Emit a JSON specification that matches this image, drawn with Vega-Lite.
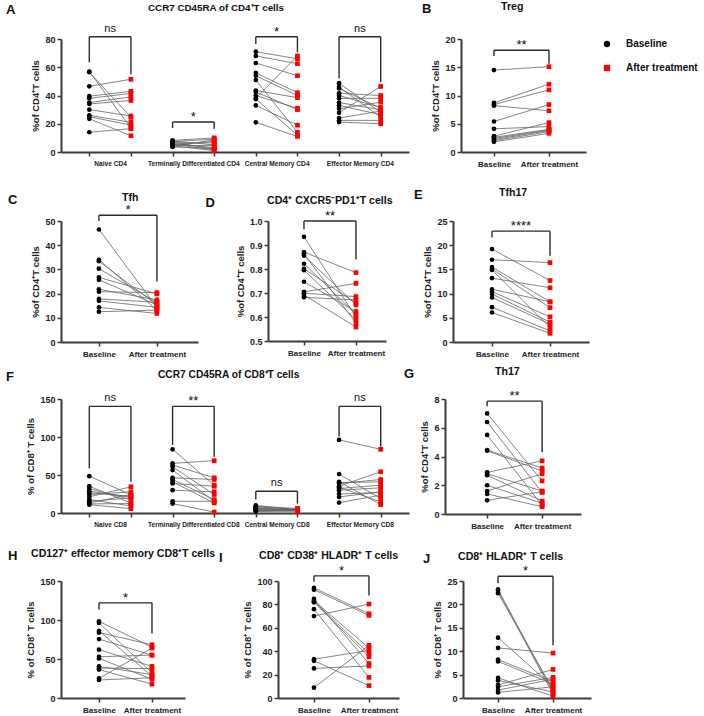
{
"$schema": "https://vega.github.io/schema/vega-lite/v6.json",
"padding": {"left": 5, "top": 2, "right": 5, "bottom": 2},
"config": {
  "view": {"stroke": null},
  "font": "Liberation Sans",
  "axis": {"domainColor": "#3a3a3a", "domainWidth": 2, "tickColor": "#3a3a3a", "tickWidth": 1.5, "tickSize": 4, "labelFont": "Liberation Sans", "labelFontWeight": "bold", "labelFontSize": 9, "labelColor": "#222222", "titleFont": "Liberation Sans", "titleFontWeight": "bold", "titleFontSize": 9.5, "titleColor": "#222222", "grid": false, "labelPadding": 2, "titlePadding": 4, "labelOverlap": false},
  "axisX": {"labelFontSize": 8, "labelAngle": 0, "labelOverlap": false, "labelPadding": 4},
  "axisY": {"labelOverlap": false},
  "title": {"font": "Liberation Sans", "fontWeight": "bold", "fontSize": 10.6, "color": "#111111"},
  "legend": {"labelFont": "Liberation Sans", "labelFontWeight": "bold", "labelFontSize": 10, "labelColor": "#111111"}
},
"datasets": {
  "dA": [
    {"g": "Naive CD4", "id": 1, "Baseline": 57, "After treatment": 17},
    {"g": "Naive CD4", "id": 2, "Baseline": 56.5, "After treatment": 24.5},
    {"g": "Naive CD4", "id": 3, "Baseline": 46.5, "After treatment": 51.5},
    {"g": "Naive CD4", "id": 4, "Baseline": 39.5, "After treatment": 43},
    {"g": "Naive CD4", "id": 5, "Baseline": 38, "After treatment": 41.5},
    {"g": "Naive CD4", "id": 6, "Baseline": 35, "After treatment": 39},
    {"g": "Naive CD4", "id": 7, "Baseline": 34, "After treatment": 36.5},
    {"g": "Naive CD4", "id": 8, "Baseline": 30, "After treatment": 25.5},
    {"g": "Naive CD4", "id": 9, "Baseline": 26, "After treatment": 21},
    {"g": "Naive CD4", "id": 10, "Baseline": 25, "After treatment": 19},
    {"g": "Naive CD4", "id": 11, "Baseline": 23.5, "After treatment": 11.5},
    {"g": "Naive CD4", "id": 12, "Baseline": 14, "After treatment": 16.5},
    {"g": "Terminally Differentiated CD4", "id": 1, "Baseline": 8.2, "After treatment": 10},
    {"g": "Terminally Differentiated CD4", "id": 2, "Baseline": 7.8, "After treatment": 5},
    {"g": "Terminally Differentiated CD4", "id": 3, "Baseline": 7.4, "After treatment": 9},
    {"g": "Terminally Differentiated CD4", "id": 4, "Baseline": 7, "After treatment": 2},
    {"g": "Terminally Differentiated CD4", "id": 5, "Baseline": 6.5, "After treatment": 6.5},
    {"g": "Terminally Differentiated CD4", "id": 6, "Baseline": 6, "After treatment": 3},
    {"g": "Terminally Differentiated CD4", "id": 7, "Baseline": 5.6, "After treatment": 1.5},
    {"g": "Terminally Differentiated CD4", "id": 8, "Baseline": 5.2, "After treatment": 7.5},
    {"g": "Terminally Differentiated CD4", "id": 9, "Baseline": 4.8, "After treatment": 4.5},
    {"g": "Terminally Differentiated CD4", "id": 10, "Baseline": 4.4, "After treatment": 1},
    {"g": "Terminally Differentiated CD4", "id": 11, "Baseline": 4, "After treatment": 8.5},
    {"g": "Terminally Differentiated CD4", "id": 12, "Baseline": 3.6, "After treatment": 2.5},
    {"g": "Central Memory CD4", "id": 1, "Baseline": 71, "After treatment": 66},
    {"g": "Central Memory CD4", "id": 2, "Baseline": 68, "After treatment": 62.5},
    {"g": "Central Memory CD4", "id": 3, "Baseline": 63, "After treatment": 54},
    {"g": "Central Memory CD4", "id": 4, "Baseline": 56, "After treatment": 42},
    {"g": "Central Memory CD4", "id": 5, "Baseline": 54, "After treatment": 40},
    {"g": "Central Memory CD4", "id": 6, "Baseline": 51, "After treatment": 14},
    {"g": "Central Memory CD4", "id": 7, "Baseline": 43.5, "After treatment": 38.5},
    {"g": "Central Memory CD4", "id": 8, "Baseline": 42.5, "After treatment": 30},
    {"g": "Central Memory CD4", "id": 9, "Baseline": 40, "After treatment": 31},
    {"g": "Central Memory CD4", "id": 10, "Baseline": 38, "After treatment": 68},
    {"g": "Central Memory CD4", "id": 11, "Baseline": 37.5, "After treatment": 12},
    {"g": "Central Memory CD4", "id": 12, "Baseline": 33, "After treatment": 19},
    {"g": "Central Memory CD4", "id": 13, "Baseline": 21, "After treatment": 11},
    {"g": "Effector Memory CD4", "id": 1, "Baseline": 48.7, "After treatment": 28},
    {"g": "Effector Memory CD4", "id": 2, "Baseline": 46, "After treatment": 24.7},
    {"g": "Effector Memory CD4", "id": 3, "Baseline": 45, "After treatment": 31},
    {"g": "Effector Memory CD4", "id": 4, "Baseline": 41.6, "After treatment": 40},
    {"g": "Effector Memory CD4", "id": 5, "Baseline": 40, "After treatment": 31.5},
    {"g": "Effector Memory CD4", "id": 6, "Baseline": 38, "After treatment": 38},
    {"g": "Effector Memory CD4", "id": 7, "Baseline": 35, "After treatment": 29.9},
    {"g": "Effector Memory CD4", "id": 8, "Baseline": 33, "After treatment": 26.4},
    {"g": "Effector Memory CD4", "id": 9, "Baseline": 30.6, "After treatment": 35.3},
    {"g": "Effector Memory CD4", "id": 10, "Baseline": 27.8, "After treatment": 46.4},
    {"g": "Effector Memory CD4", "id": 11, "Baseline": 24, "After treatment": 29},
    {"g": "Effector Memory CD4", "id": 12, "Baseline": 22.4, "After treatment": 22.4},
    {"g": "Effector Memory CD4", "id": 13, "Baseline": 21.2, "After treatment": 20}
  ],
  "dB": [
    {"id": 1, "Baseline": 14.5, "After treatment": 15.1},
    {"id": 2, "Baseline": 8.7, "After treatment": 12},
    {"id": 3, "Baseline": 8.4, "After treatment": 11},
    {"id": 4, "Baseline": 8.2, "After treatment": 7.3},
    {"id": 5, "Baseline": 5.4, "After treatment": 8.4},
    {"id": 6, "Baseline": 4.1, "After treatment": 4.5},
    {"id": 7, "Baseline": 2.8, "After treatment": 5.2},
    {"id": 8, "Baseline": 2.6, "After treatment": 4},
    {"id": 9, "Baseline": 2.4, "After treatment": 3.9},
    {"id": 10, "Baseline": 2.2, "After treatment": 3.8},
    {"id": 11, "Baseline": 2, "After treatment": 3.6},
    {"id": 12, "Baseline": 1.8, "After treatment": 3.3}
  ],
  "dC": [
    {"id": 1, "Baseline": 46.5, "After treatment": 14.3},
    {"id": 2, "Baseline": 34, "After treatment": 13.2},
    {"id": 3, "Baseline": 33.4, "After treatment": 15.3},
    {"id": 4, "Baseline": 30.3, "After treatment": 16.4},
    {"id": 5, "Baseline": 26.7, "After treatment": 19.9},
    {"id": 6, "Baseline": 25.7, "After treatment": 15.3},
    {"id": 7, "Baseline": 21.8, "After treatment": 17.4},
    {"id": 8, "Baseline": 20.8, "After treatment": 20.4},
    {"id": 9, "Baseline": 17.8, "After treatment": 16.4},
    {"id": 10, "Baseline": 17, "After treatment": 14.3},
    {"id": 11, "Baseline": 14.3, "After treatment": 11.8},
    {"id": 12, "Baseline": 12.5, "After treatment": 13.2}
  ],
  "dD": [
    {"id": 1, "Baseline": 0.934, "After treatment": 0.6},
    {"id": 2, "Baseline": 0.87, "After treatment": 0.785},
    {"id": 3, "Baseline": 0.863, "After treatment": 0.575},
    {"id": 4, "Baseline": 0.856, "After treatment": 0.651},
    {"id": 5, "Baseline": 0.822, "After treatment": 0.612},
    {"id": 6, "Baseline": 0.801, "After treatment": 0.658},
    {"id": 7, "Baseline": 0.795, "After treatment": 0.589},
    {"id": 8, "Baseline": 0.747, "After treatment": 0.623},
    {"id": 9, "Baseline": 0.705, "After treatment": 0.74},
    {"id": 10, "Baseline": 0.699, "After treatment": 0.685},
    {"id": 11, "Baseline": 0.692, "After treatment": 0.558},
    {"id": 12, "Baseline": 0.682, "After treatment": 0.671}
  ],
  "dE": [
    {"id": 1, "Baseline": 19.2, "After treatment": 12.7},
    {"id": 2, "Baseline": 17, "After treatment": 16.4},
    {"id": 3, "Baseline": 15.5, "After treatment": 8.3},
    {"id": 4, "Baseline": 15.1, "After treatment": 7.1},
    {"id": 5, "Baseline": 14.9, "After treatment": 3},
    {"id": 6, "Baseline": 13.2, "After treatment": 11.2},
    {"id": 7, "Baseline": 10.9, "After treatment": 8.3},
    {"id": 8, "Baseline": 10.4, "After treatment": 5.2},
    {"id": 9, "Baseline": 9.9, "After treatment": 4.1},
    {"id": 10, "Baseline": 9.2, "After treatment": 3.7},
    {"id": 11, "Baseline": 7.2, "After treatment": 2.3},
    {"id": 12, "Baseline": 6.1, "After treatment": 1.8}
  ],
  "dF": [
    {"g": "Naive CD8", "id": 1, "Baseline": 48.5, "After treatment": 24},
    {"g": "Naive CD8", "id": 2, "Baseline": 35.3, "After treatment": 13},
    {"g": "Naive CD8", "id": 3, "Baseline": 32, "After treatment": 17.6},
    {"g": "Naive CD8", "id": 4, "Baseline": 28.7, "After treatment": 21},
    {"g": "Naive CD8", "id": 5, "Baseline": 26.5, "After treatment": 22},
    {"g": "Naive CD8", "id": 6, "Baseline": 24.3, "After treatment": 27.8},
    {"g": "Naive CD8", "id": 7, "Baseline": 21.2, "After treatment": 34.4},
    {"g": "Naive CD8", "id": 8, "Baseline": 17.6, "After treatment": 9.3},
    {"g": "Naive CD8", "id": 9, "Baseline": 15.4, "After treatment": 19.9},
    {"g": "Naive CD8", "id": 10, "Baseline": 13.2, "After treatment": 24.3},
    {"g": "Naive CD8", "id": 11, "Baseline": 11, "After treatment": 5.7},
    {"g": "Naive CD8", "id": 12, "Baseline": 12, "After treatment": 12.4},
    {"g": "Terminally Differentiated CD8", "id": 1, "Baseline": 83.8, "After treatment": 36.6},
    {"g": "Terminally Differentiated CD8", "id": 2, "Baseline": 65.3, "After treatment": 68.8},
    {"g": "Terminally Differentiated CD8", "id": 3, "Baseline": 63.1, "After treatment": 46.3},
    {"g": "Terminally Differentiated CD8", "id": 4, "Baseline": 60.9, "After treatment": 24.3},
    {"g": "Terminally Differentiated CD8", "id": 5, "Baseline": 56.5, "After treatment": 15.4},
    {"g": "Terminally Differentiated CD8", "id": 6, "Baseline": 46.3, "After treatment": 44.1},
    {"g": "Terminally Differentiated CD8", "id": 7, "Baseline": 44.1, "After treatment": 17.6},
    {"g": "Terminally Differentiated CD8", "id": 8, "Baseline": 41, "After treatment": 13.2},
    {"g": "Terminally Differentiated CD8", "id": 9, "Baseline": 38.8, "After treatment": 35.3},
    {"g": "Terminally Differentiated CD8", "id": 10, "Baseline": 30, "After treatment": 27.8},
    {"g": "Terminally Differentiated CD8", "id": 11, "Baseline": 15.4, "After treatment": 15.4},
    {"g": "Terminally Differentiated CD8", "id": 12, "Baseline": 12.4, "After treatment": 1.3},
    {"g": "Central Memory CD8", "id": 1, "Baseline": 10, "After treatment": 4},
    {"g": "Central Memory CD8", "id": 2, "Baseline": 8, "After treatment": 5},
    {"g": "Central Memory CD8", "id": 3, "Baseline": 6.5, "After treatment": 3},
    {"g": "Central Memory CD8", "id": 4, "Baseline": 5, "After treatment": 4.5},
    {"g": "Central Memory CD8", "id": 5, "Baseline": 3.5, "After treatment": 3.5},
    {"g": "Central Memory CD8", "id": 6, "Baseline": 2.5, "After treatment": 3},
    {"g": "Central Memory CD8", "id": 7, "Baseline": 9, "After treatment": 6},
    {"g": "Central Memory CD8", "id": 8, "Baseline": 4, "After treatment": 2.5},
    {"g": "Central Memory CD8", "id": 9, "Baseline": 7, "After treatment": 4},
    {"g": "Central Memory CD8", "id": 10, "Baseline": 3, "After treatment": 5.5},
    {"g": "Central Memory CD8", "id": 11, "Baseline": 5.5, "After treatment": 3.8},
    {"g": "Central Memory CD8", "id": 12, "Baseline": 2, "After treatment": 2.8},
    {"g": "Effector Memory CD8", "id": 1, "Baseline": 96.2, "After treatment": 83.8},
    {"g": "Effector Memory CD8", "id": 2, "Baseline": 51.2, "After treatment": 19},
    {"g": "Effector Memory CD8", "id": 3, "Baseline": 41, "After treatment": 11},
    {"g": "Effector Memory CD8", "id": 4, "Baseline": 38.8, "After treatment": 44.1},
    {"g": "Effector Memory CD8", "id": 5, "Baseline": 35.3, "After treatment": 54.3},
    {"g": "Effector Memory CD8", "id": 6, "Baseline": 32.2, "After treatment": 36.6},
    {"g": "Effector Memory CD8", "id": 7, "Baseline": 30, "After treatment": 33.1},
    {"g": "Effector Memory CD8", "id": 8, "Baseline": 21.2, "After treatment": 27.8},
    {"g": "Effector Memory CD8", "id": 9, "Baseline": 13.7, "After treatment": 23.4},
    {"g": "Effector Memory CD8", "id": 10, "Baseline": 40, "After treatment": 41},
    {"g": "Effector Memory CD8", "id": 11, "Baseline": 34, "After treatment": 14.6},
    {"g": "Effector Memory CD8", "id": 12, "Baseline": 25, "After treatment": 27}
  ],
  "dG": [
    {"id": 1, "Baseline": 7, "After treatment": 2.3},
    {"id": 2, "Baseline": 6.4, "After treatment": 1.5},
    {"id": 3, "Baseline": 5.5, "After treatment": 0.6},
    {"id": 4, "Baseline": 4.45, "After treatment": 3.2},
    {"id": 5, "Baseline": 4.4, "After treatment": 3},
    {"id": 6, "Baseline": 2.9, "After treatment": 3.7},
    {"id": 7, "Baseline": 2.8, "After treatment": 1.6},
    {"id": 8, "Baseline": 2.7, "After treatment": 0.9},
    {"id": 9, "Baseline": 2, "After treatment": 0.75},
    {"id": 10, "Baseline": 1.6, "After treatment": 2.8},
    {"id": 11, "Baseline": 1.4, "After treatment": 0.5},
    {"id": 12, "Baseline": 0.95, "After treatment": 1.55}
  ],
  "dH": [
    {"id": 1, "Baseline": 98.3, "After treatment": 65.3},
    {"id": 2, "Baseline": 96.3, "After treatment": 32.2},
    {"id": 3, "Baseline": 86, "After treatment": 28.1},
    {"id": 4, "Baseline": 83.9, "After treatment": 68.2},
    {"id": 5, "Baseline": 75.6, "After treatment": 55},
    {"id": 6, "Baseline": 62, "After treatment": 40.5},
    {"id": 7, "Baseline": 52.9, "After treatment": 55},
    {"id": 8, "Baseline": 50.8, "After treatment": 24},
    {"id": 9, "Baseline": 40.5, "After treatment": 30},
    {"id": 10, "Baseline": 38.4, "After treatment": 37.6},
    {"id": 11, "Baseline": 36.4, "After treatment": 17.8},
    {"id": 12, "Baseline": 25.2, "After treatment": 64},
    {"id": 13, "Baseline": 23.1, "After treatment": 26}
  ],
  "dI": [
    {"id": 1, "Baseline": 94.1, "After treatment": 72},
    {"id": 2, "Baseline": 92.6, "After treatment": 70.6},
    {"id": 3, "Baseline": 84.7, "After treatment": 29.4},
    {"id": 4, "Baseline": 83.2, "After treatment": 42.6},
    {"id": 5, "Baseline": 82.5, "After treatment": 38},
    {"id": 6, "Baseline": 81.8, "After treatment": 35.3},
    {"id": 7, "Baseline": 75.9, "After treatment": 17.6},
    {"id": 8, "Baseline": 70, "After treatment": 80.3},
    {"id": 9, "Baseline": 33.2, "After treatment": 40.6},
    {"id": 10, "Baseline": 31.8, "After treatment": 10.6},
    {"id": 11, "Baseline": 25.3, "After treatment": 27.4},
    {"id": 12, "Baseline": 8.8, "After treatment": 45}
  ],
  "dJ": [
    {"id": 1, "Baseline": 23.2, "After treatment": 1.3},
    {"id": 2, "Baseline": 22.9, "After treatment": 0.8},
    {"id": 3, "Baseline": 22.4, "After treatment": 1.8},
    {"id": 4, "Baseline": 12.9, "After treatment": 2.4},
    {"id": 5, "Baseline": 10.7, "After treatment": 9.6},
    {"id": 6, "Baseline": 8.2, "After treatment": 3.5},
    {"id": 7, "Baseline": 7.8, "After treatment": 3},
    {"id": 8, "Baseline": 4.3, "After treatment": 0.4},
    {"id": 9, "Baseline": 3.75, "After treatment": 1.3},
    {"id": 10, "Baseline": 2.8, "After treatment": 6.1},
    {"id": 11, "Baseline": 2.4, "After treatment": 4.4},
    {"id": 12, "Baseline": 1.7, "After treatment": 4},
    {"id": 13, "Baseline": 1.2, "After treatment": 2.4}
  ]
},
"resolve": {"scale": {"color": "independent", "shape": "independent"}},
"spacing": 20,
"vconcat": [
  {
    "hconcat": [
      {
        "title": {"text": "A", "anchor": "start", "frame": "bounds", "baseline": "top", "offset": -14, "dx": -25, "fontSize": 13},
        "vconcat": [{
          "width": 348, "height": 113,
          "title": {"text": "CCR7 CD45RA of CD4⁺T cells", "offset": 10, "anchor": "start", "frame": "group", "dx": 87, "fontSize": 9.8},
          "layer": [
            {
              "data": {"name": "dA"},
              "transform": [{"fold": ["Baseline", "After treatment"], "as": ["t", "v"]}, {"calculate": "datum.g + '|' + datum.t", "as": "k"}],
              "layer": [
                {"mark": {"type": "line", "color": "#666666", "strokeWidth": 0.8},
                 "encoding": {
                   "x": {"field": "k", "type": "nominal", "title": null, "scale": {"type": "point", "domain": ["Naive CD4|Baseline", "Naive CD4|After treatment", "Terminally Differentiated CD4|Baseline", "Terminally Differentiated CD4|After treatment", "Central Memory CD4|Baseline", "Central Memory CD4|After treatment", "Effector Memory CD4|Baseline", "Effector Memory CD4|After treatment"], "padding": 0.68, "align": 0.5},
                     "axis": {"labelExpr": "indexof(datum.value, '|Baseline') > 0 ? split(datum.value, '|')[0] : ''", "labelOffset": 20.8, "labelFontSize": 6.6}},
                   "y": {"field": "v", "type": "quantitative", "title": "%of CD4⁺T cells", "scale": {"domain": [0, 80], "nice": false}, "axis": {"values": [0, 20, 40, 60, 80], "labelOverlap": false}},
                   "detail": [{"field": "g"}, {"field": "id"}]}},
                {"mark": {"type": "point", "filled": true, "opacity": 1, "size": 22},
                 "encoding": {
                   "x": {"field": "k", "type": "nominal", "title": null},
                   "y": {"field": "v", "type": "quantitative", "title": "%of CD4⁺T cells", "axis": {"values": [0, 20, 40, 60, 80], "labelOverlap": false}},
                   "color": {"field": "t", "type": "nominal", "scale": {"domain": ["Baseline", "After treatment"], "range": ["#000000", "#ff0000"]}, "legend": null},
                   "shape": {"field": "t", "type": "nominal", "scale": {"domain": ["Baseline", "After treatment"], "range": ["circle", "square"]}, "legend": null}}}
              ]
            },
            {
              "data": {"values": [
                {"g": "Naive CD4", "top": 81.6, "yl": 63.5, "yr": 55, "lab": "ns"},
                {"g": "Terminally Differentiated CD4", "top": 21.2, "yl": 17, "yr": 16.5, "lab": "*"},
                {"g": "Central Memory CD4", "top": 81.6, "yl": 76.5, "yr": 70.6, "lab": "*"},
                {"g": "Effector Memory CD4", "top": 81.6, "yl": 52, "yr": 49.4, "lab": "ns"}]},
              "transform": [{"calculate": "datum.g + '|Baseline'", "as": "xb"}, {"calculate": "datum.g + '|After treatment'", "as": "xa"}],
              "layer": [
                {"mark": {"type": "rule", "color": "#2b2b2b", "strokeWidth": 1.4}, "encoding": {"x": {"field": "xb", "type": "nominal", "title": null}, "x2": {"field": "xa"}, "y": {"field": "top", "type": "quantitative", "title": "%of CD4⁺T cells", "axis": {"values": [0, 20, 40, 60, 80], "labelOverlap": false}}}},
                {"mark": {"type": "rule", "color": "#2b2b2b", "strokeWidth": 1.4}, "encoding": {"x": {"field": "xb", "type": "nominal", "title": null}, "y": {"field": "top", "type": "quantitative", "title": "%of CD4⁺T cells", "axis": {"values": [0, 20, 40, 60, 80], "labelOverlap": false}}, "y2": {"field": "yl"}}},
                {"mark": {"type": "rule", "color": "#2b2b2b", "strokeWidth": 1.4}, "encoding": {"x": {"field": "xa", "type": "nominal", "title": null}, "y": {"field": "top", "type": "quantitative", "title": "%of CD4⁺T cells", "axis": {"values": [0, 20, 40, 60, 80], "labelOverlap": false}}, "y2": {"field": "yr"}}},
                {"mark": {"type": "text", "fontSize": {"expr": "datum.lab == 'ns' ? 11 : 13"}, "dx": 20.8, "dy": {"expr": "datum.lab == 'ns' ? -5 : -1"}, "baseline": "alphabetic", "color": "#111111"}, "encoding": {"x": {"field": "xb", "type": "nominal", "title": null}, "y": {"field": "top", "type": "quantitative", "title": "%of CD4⁺T cells", "axis": {"values": [0, 20, 40, 60, 80], "labelOverlap": false}}, "text": {"field": "lab"}}}
              ]
            }
          ]
        }]
      },
      {
        "title": {"text": "B", "anchor": "start", "frame": "bounds", "baseline": "top", "offset": -14, "dx": -9, "fontSize": 13},
        "resolve": {"scale": {"color": "independent", "shape": "independent"}},
        "vconcat": [{
          "width": 125, "height": 113,
          "title": {"text": "Treg", "offset": 22, "anchor": "start", "frame": "group", "dx": 40},
          "layer": [
            {
              "data": {"name": "dB"},
              "transform": [{"fold": ["Baseline", "After treatment"], "as": ["t", "v"]}],
              "layer": [
                {"mark": {"type": "line", "color": "#666666", "strokeWidth": 0.8},
                 "encoding": {
                   "x": {"field": "t", "type": "nominal", "title": null, "scale": {"type": "point", "domain": ["Baseline", "After treatment"], "padding": 0.636, "align": 0.471}},
                   "y": {"field": "v", "type": "quantitative", "title": "%of CD4⁺T cells", "scale": {"domain": [0, 20], "nice": false}, "axis": {"values": [0, 5, 10, 15, 20], "labelOverlap": false}},
                   "detail": {"field": "id"}}},
                {"mark": {"type": "point", "filled": true, "opacity": 1, "size": 22},
                 "encoding": {
                   "x": {"field": "t", "type": "nominal", "title": null},
                   "y": {"field": "v", "type": "quantitative", "title": "%of CD4⁺T cells", "axis": {"values": [0, 5, 10, 15, 20], "labelOverlap": false}},
                   "color": {"field": "t", "type": "nominal", "scale": {"domain": ["Baseline", "After treatment"], "range": ["#000000", "#ff0000"]}, "legend": {"title": null, "orient": "right", "offset": 16, "symbolSize": 40, "rowPadding": 14, "labelOffset": 14}},
                   "shape": {"field": "t", "type": "nominal", "scale": {"domain": ["Baseline", "After treatment"], "range": ["circle", "square"]}, "legend": {"title": null, "orient": "right", "offset": 16, "symbolSize": 40, "rowPadding": 14, "labelOffset": 14}}}}
              ]
            },
            {
              "data": {"values": [{"xb": "Baseline", "xa": "After treatment", "top": 18, "yl": 17, "yr": 15.6, "lab": "**"}]},
              "layer": [
                {"mark": {"type": "rule", "color": "#2b2b2b", "strokeWidth": 1.4}, "encoding": {"x": {"field": "xb", "type": "nominal", "title": null}, "x2": {"field": "xa"}, "y": {"field": "top", "type": "quantitative", "title": "%of CD4⁺T cells", "axis": {"values": [0, 5, 10, 15, 20], "labelOverlap": false}}}},
                {"mark": {"type": "rule", "color": "#2b2b2b", "strokeWidth": 1.4}, "encoding": {"x": {"field": "xb", "type": "nominal", "title": null}, "y": {"field": "top", "type": "quantitative", "title": "%of CD4⁺T cells", "axis": {"values": [0, 5, 10, 15, 20], "labelOverlap": false}}, "y2": {"field": "yl"}}},
                {"mark": {"type": "rule", "color": "#2b2b2b", "strokeWidth": 1.4}, "encoding": {"x": {"field": "xa", "type": "nominal", "title": null}, "y": {"field": "top", "type": "quantitative", "title": "%of CD4⁺T cells", "axis": {"values": [0, 5, 10, 15, 20], "labelOverlap": false}}, "y2": {"field": "yr"}}},
                {"mark": {"type": "text", "fontSize": 13, "dx": 27.5, "dy": -1, "baseline": "alphabetic", "color": "#111111"}, "encoding": {"x": {"field": "xb", "type": "nominal", "title": null}, "y": {"field": "top", "type": "quantitative", "title": "%of CD4⁺T cells", "axis": {"values": [0, 5, 10, 15, 20], "labelOverlap": false}}, "text": {"field": "lab"}}}
              ]
            }
          ]
        }]
      }
    ],
    "spacing": 12,
    "resolve": {"scale": {"color": "independent", "shape": "independent"}}
  },
  {
    "spacing": 8,
    "vconcat": [
      {
        "spacing": 7,
        "hconcat": [
          {
            "title": {"text": "C", "anchor": "start", "frame": "bounds", "baseline": "top", "offset": -14, "dx": -23, "fontSize": 13},
            "vconcat": [{
              "width": 137, "height": 121,
              "title": {"text": "Tfh", "offset": 1, "anchor": "start", "frame": "group", "dx": 61},
              "layer": [
                {
                  "data": {"name": "dC"},
                  "transform": [{"fold": ["Baseline", "After treatment"], "as": ["t", "v"]}],
                  "layer": [
                    {"mark": {"type": "line", "color": "#666666", "strokeWidth": 0.8},
                     "encoding": {
                       "x": {"field": "t", "type": "nominal", "title": null, "scale": {"type": "point", "domain": ["Baseline", "After treatment"], "padding": 0.681, "align": 0.48}},
                       "y": {"field": "v", "type": "quantitative", "title": "%of CD4⁺T cells", "scale": {"domain": [0, 50], "nice": false}, "axis": {"values": [0, 10, 20, 30, 40, 50], "labelOverlap": false}},
                       "detail": {"field": "id"}}},
                    {"mark": {"type": "point", "filled": true, "opacity": 1, "size": 22},
                     "encoding": {
                       "x": {"field": "t", "type": "nominal", "title": null},
                       "y": {"field": "v", "type": "quantitative", "title": "%of CD4⁺T cells", "axis": {"values": [0, 10, 20, 30, 40, 50], "labelOverlap": false}},
                       "color": {"field": "t", "type": "nominal", "scale": {"domain": ["Baseline", "After treatment"], "range": ["#000000", "#ff0000"]}, "legend": null},
                       "shape": {"field": "t", "type": "nominal", "scale": {"domain": ["Baseline", "After treatment"], "range": ["circle", "square"]}, "legend": null}}}
                  ]
                },
                {
                  "data": {"values": [{"xb": "Baseline", "xa": "After treatment", "top": 52.4, "yl": 50, "yr": 25, "lab": "*"}]},
                  "layer": [
                    {"mark": {"type": "rule", "color": "#2b2b2b", "strokeWidth": 1.4}, "encoding": {"x": {"field": "xb", "type": "nominal", "title": null}, "x2": {"field": "xa"}, "y": {"field": "top", "type": "quantitative", "title": "%of CD4⁺T cells", "axis": {"values": [0, 10, 20, 30, 40, 50], "labelOverlap": false}}}},
                    {"mark": {"type": "rule", "color": "#2b2b2b", "strokeWidth": 1.4}, "encoding": {"x": {"field": "xb", "type": "nominal", "title": null}, "y": {"field": "top", "type": "quantitative", "title": "%of CD4⁺T cells", "axis": {"values": [0, 10, 20, 30, 40, 50], "labelOverlap": false}}, "y2": {"field": "yl"}}},
                    {"mark": {"type": "rule", "color": "#2b2b2b", "strokeWidth": 1.4}, "encoding": {"x": {"field": "xa", "type": "nominal", "title": null}, "y": {"field": "top", "type": "quantitative", "title": "%of CD4⁺T cells", "axis": {"values": [0, 10, 20, 30, 40, 50], "labelOverlap": false}}, "y2": {"field": "yr"}}},
                    {"mark": {"type": "text", "fontSize": 13, "dx": 29, "dy": -1, "baseline": "alphabetic", "color": "#111111"}, "encoding": {"x": {"field": "xb", "type": "nominal", "title": null}, "y": {"field": "top", "type": "quantitative", "title": "%of CD4⁺T cells", "axis": {"values": [0, 10, 20, 30, 40, 50], "labelOverlap": false}}, "text": {"field": "lab"}}}
                  ]
                }
              ]
            }]
          },
          {
            "spacing": 20,
            "hconcat": [
              {
                "title": {"text": "D", "anchor": "start", "frame": "bounds", "baseline": "top", "offset": -14, "dx": -30, "fontSize": 13},
                "vconcat": [{
                  "width": 118, "height": 120,
                  "title": {"text": "CD4⁺ CXCR5⁻PD1⁺T cells", "offset": 3, "anchor": "start", "frame": "group", "dx": -1},
                  "layer": [
                    {
                      "data": {"name": "dD"},
                      "transform": [{"fold": ["Baseline", "After treatment"], "as": ["t", "v"]}],
                      "layer": [
                        {"mark": {"type": "line", "color": "#666666", "strokeWidth": 0.8},
                         "encoding": {
                           "x": {"field": "t", "type": "nominal", "title": null, "scale": {"type": "point", "domain": ["Baseline", "After treatment"], "padding": 0.635, "align": 0.545}},
                           "y": {"field": "v", "type": "quantitative", "title": "%of CD4⁺T cells", "scale": {"domain": [0.5, 1.0], "nice": false, "zero": false}, "axis": {"values": [0.5, 0.6, 0.7, 0.8, 0.9, 1.0], "format": ".1f", "labelOverlap": false}},
                           "detail": {"field": "id"}}},
                        {"mark": {"type": "point", "filled": true, "opacity": 1, "size": 22},
                         "encoding": {
                           "x": {"field": "t", "type": "nominal", "title": null},
                           "y": {"field": "v", "type": "quantitative", "title": "%of CD4⁺T cells", "axis": {"values": [0.5, 0.6, 0.7, 0.8, 0.9, 1.0], "format": ".1f", "labelOverlap": false}},
                           "color": {"field": "t", "type": "nominal", "scale": {"domain": ["Baseline", "After treatment"], "range": ["#000000", "#ff0000"]}, "legend": null},
                           "shape": {"field": "t", "type": "nominal", "scale": {"domain": ["Baseline", "After treatment"], "range": ["circle", "square"]}, "legend": null}}}
                      ]
                    },
                    {
                      "data": {"values": [{"xb": "Baseline", "xa": "After treatment", "top": 1.0, "yl": 0.966, "yr": 0.84, "lab": "**"}]},
                      "layer": [
                        {"mark": {"type": "rule", "color": "#2b2b2b", "strokeWidth": 1.4}, "encoding": {"x": {"field": "xb", "type": "nominal", "title": null}, "x2": {"field": "xa"}, "y": {"field": "top", "type": "quantitative", "title": "%of CD4⁺T cells", "axis": {"values": [0.5, 0.6, 0.7, 0.8, 0.9, 1.0], "format": ".1f", "labelOverlap": false}}}},
                        {"mark": {"type": "rule", "color": "#2b2b2b", "strokeWidth": 1.4}, "encoding": {"x": {"field": "xb", "type": "nominal", "title": null}, "y": {"field": "top", "type": "quantitative", "title": "%of CD4⁺T cells", "axis": {"values": [0.5, 0.6, 0.7, 0.8, 0.9, 1.0], "format": ".1f", "labelOverlap": false}}, "y2": {"field": "yl"}}},
                        {"mark": {"type": "rule", "color": "#2b2b2b", "strokeWidth": 1.4}, "encoding": {"x": {"field": "xa", "type": "nominal", "title": null}, "y": {"field": "top", "type": "quantitative", "title": "%of CD4⁺T cells", "axis": {"values": [0.5, 0.6, 0.7, 0.8, 0.9, 1.0], "format": ".1f", "labelOverlap": false}}, "y2": {"field": "yr"}}},
                        {"mark": {"type": "text", "fontSize": 13, "dx": 26, "dy": -1, "baseline": "alphabetic", "color": "#111111"}, "encoding": {"x": {"field": "xb", "type": "nominal", "title": null}, "y": {"field": "top", "type": "quantitative", "title": "%of CD4⁺T cells", "axis": {"values": [0.5, 0.6, 0.7, 0.8, 0.9, 1.0], "format": ".1f", "labelOverlap": false}}, "text": {"field": "lab"}}}
                      ]
                    }
                  ]
                }]
              },
              {
                "title": {"text": "E", "anchor": "start", "frame": "bounds", "baseline": "top", "offset": -14, "dx": -9, "fontSize": 13},
                "vconcat": [{
                  "width": 136, "height": 121,
                  "title": {"text": "Tfh17", "offset": 18, "anchor": "start", "frame": "group", "dx": 46},
                  "layer": [
                    {
                      "data": {"name": "dE"},
                      "transform": [{"fold": ["Baseline", "After treatment"], "as": ["t", "v"]}],
                      "layer": [
                        {"mark": {"type": "line", "color": "#666666", "strokeWidth": 0.8},
                         "encoding": {
                           "x": {"field": "t", "type": "nominal", "title": null, "scale": {"type": "point", "domain": ["Baseline", "After treatment"], "padding": 0.672, "align": 0.5}},
                           "y": {"field": "v", "type": "quantitative", "title": "%of CD4⁺T cells", "scale": {"domain": [0, 25], "nice": false}, "axis": {"values": [0, 5, 10, 15, 20, 25], "labelOverlap": false}},
                           "detail": {"field": "id"}}},
                        {"mark": {"type": "point", "filled": true, "opacity": 1, "size": 22},
                         "encoding": {
                           "x": {"field": "t", "type": "nominal", "title": null},
                           "y": {"field": "v", "type": "quantitative", "title": "%of CD4⁺T cells", "axis": {"values": [0, 5, 10, 15, 20, 25], "labelOverlap": false}},
                           "color": {"field": "t", "type": "nominal", "scale": {"domain": ["Baseline", "After treatment"], "range": ["#000000", "#ff0000"]}, "legend": null},
                           "shape": {"field": "t", "type": "nominal", "scale": {"domain": ["Baseline", "After treatment"], "range": ["circle", "square"]}, "legend": null}}}
                      ]
                    },
                    {
                      "data": {"values": [{"xb": "Baseline", "xa": "After treatment", "top": 22.9, "yl": 21.6, "yr": 17.8, "lab": "****"}]},
                      "layer": [
                        {"mark": {"type": "rule", "color": "#2b2b2b", "strokeWidth": 1.4}, "encoding": {"x": {"field": "xb", "type": "nominal", "title": null}, "x2": {"field": "xa"}, "y": {"field": "top", "type": "quantitative", "title": "%of CD4⁺T cells", "axis": {"values": [0, 5, 10, 15, 20, 25], "labelOverlap": false}}}},
                        {"mark": {"type": "rule", "color": "#2b2b2b", "strokeWidth": 1.4}, "encoding": {"x": {"field": "xb", "type": "nominal", "title": null}, "y": {"field": "top", "type": "quantitative", "title": "%of CD4⁺T cells", "axis": {"values": [0, 5, 10, 15, 20, 25], "labelOverlap": false}}, "y2": {"field": "yl"}}},
                        {"mark": {"type": "rule", "color": "#2b2b2b", "strokeWidth": 1.4}, "encoding": {"x": {"field": "xa", "type": "nominal", "title": null}, "y": {"field": "top", "type": "quantitative", "title": "%of CD4⁺T cells", "axis": {"values": [0, 5, 10, 15, 20, 25], "labelOverlap": false}}, "y2": {"field": "yr"}}},
                        {"mark": {"type": "text", "fontSize": 13, "dx": 29, "dy": -1, "baseline": "alphabetic", "color": "#111111"}, "encoding": {"x": {"field": "xb", "type": "nominal", "title": null}, "y": {"field": "top", "type": "quantitative", "title": "%of CD4⁺T cells", "axis": {"values": [0, 5, 10, 15, 20, 25], "labelOverlap": false}}, "text": {"field": "lab"}}}
                      ]
                    }
                  ]
                }]
              }
            ]
          }
        ]
      },
      {
        "spacing": 19,
        "vconcat": [
          {
            "spacing": -6,
            "hconcat": [
              {
                "title": {"text": "F", "anchor": "start", "frame": "bounds", "baseline": "top", "offset": -14, "dx": -20, "fontSize": 13},
                "vconcat": [{
                  "width": 348, "height": 114,
                  "title": {"text": "CCR7 CD45RA of CD8⁺T cells", "offset": 12, "anchor": "start", "frame": "group", "dx": 97, "fontSize": 10.2},
                  "layer": [
                    {
                      "data": {"name": "dF"},
                      "transform": [{"fold": ["Baseline", "After treatment"], "as": ["t", "v"]}, {"calculate": "datum.g + '|' + datum.t", "as": "k"}],
                      "layer": [
                        {"mark": {"type": "line", "color": "#666666", "strokeWidth": 0.8},
                         "encoding": {
                           "x": {"field": "k", "type": "nominal", "title": null, "scale": {"type": "point", "domain": ["Naive CD8|Baseline", "Naive CD8|After treatment", "Terminally Differentiated CD8|Baseline", "Terminally Differentiated CD8|After treatment", "Central Memory CD8|Baseline", "Central Memory CD8|After treatment", "Effector Memory CD8|Baseline", "Effector Memory CD8|After treatment"], "padding": 0.68, "align": 0.5},
                             "axis": {"labelExpr": "indexof(datum.value, '|Baseline') > 0 ? split(datum.value, '|')[0] : ''", "labelOffset": 20.8, "labelFontSize": 6.6}},
                           "y": {"field": "v", "type": "quantitative", "title": "% of CD8⁺ T cells", "scale": {"domain": [0, 150], "nice": false}, "axis": {"values": [0, 50, 100, 150], "labelOverlap": false}},
                           "detail": [{"field": "g"}, {"field": "id"}]}},
                        {"mark": {"type": "point", "filled": true, "opacity": 1, "size": 22},
                         "encoding": {
                           "x": {"field": "k", "type": "nominal", "title": null},
                           "y": {"field": "v", "type": "quantitative", "title": "% of CD8⁺ T cells", "axis": {"values": [0, 50, 100, 150], "labelOverlap": false}},
                           "color": {"field": "t", "type": "nominal", "scale": {"domain": ["Baseline", "After treatment"], "range": ["#000000", "#ff0000"]}, "legend": null},
                           "shape": {"field": "t", "type": "nominal", "scale": {"domain": ["Baseline", "After treatment"], "range": ["circle", "square"]}, "legend": null}}}
                      ]
                    },
                    {
                      "data": {"values": [
                        {"g": "Naive CD8", "top": 140.3, "yl": 58.7, "yr": 41, "lab": "ns"},
                        {"g": "Terminally Differentiated CD8", "top": 140.3, "yl": 89.6, "yr": 74, "lab": "**"},
                        {"g": "Central Memory CD8", "top": 28.7, "yl": 17.6, "yr": 12.4, "lab": "ns"},
                        {"g": "Effector Memory CD8", "top": 140.3, "yl": 100.6, "yr": 87.4, "lab": "ns"}]},
                      "transform": [{"calculate": "datum.g + '|Baseline'", "as": "xb"}, {"calculate": "datum.g + '|After treatment'", "as": "xa"}],
                      "layer": [
                        {"mark": {"type": "rule", "color": "#2b2b2b", "strokeWidth": 1.4}, "encoding": {"x": {"field": "xb", "type": "nominal", "title": null}, "x2": {"field": "xa"}, "y": {"field": "top", "type": "quantitative", "title": "% of CD8⁺ T cells", "axis": {"values": [0, 50, 100, 150], "labelOverlap": false}}}},
                        {"mark": {"type": "rule", "color": "#2b2b2b", "strokeWidth": 1.4}, "encoding": {"x": {"field": "xb", "type": "nominal", "title": null}, "y": {"field": "top", "type": "quantitative", "title": "% of CD8⁺ T cells", "axis": {"values": [0, 50, 100, 150], "labelOverlap": false}}, "y2": {"field": "yl"}}},
                        {"mark": {"type": "rule", "color": "#2b2b2b", "strokeWidth": 1.4}, "encoding": {"x": {"field": "xa", "type": "nominal", "title": null}, "y": {"field": "top", "type": "quantitative", "title": "% of CD8⁺ T cells", "axis": {"values": [0, 50, 100, 150], "labelOverlap": false}}, "y2": {"field": "yr"}}},
                        {"mark": {"type": "text", "fontSize": {"expr": "datum.lab == 'ns' ? 11 : 13"}, "dx": 20.8, "dy": {"expr": "datum.lab == 'ns' ? -5 : -1"}, "baseline": "alphabetic", "color": "#111111"}, "encoding": {"x": {"field": "xb", "type": "nominal", "title": null}, "y": {"field": "top", "type": "quantitative", "title": "% of CD8⁺ T cells", "axis": {"values": [0, 50, 100, 150], "labelOverlap": false}}, "text": {"field": "lab"}}}
                      ]
                    }
                  ]
                }]
              },
              {
                "title": {"text": "G", "anchor": "start", "frame": "bounds", "baseline": "top", "offset": -14, "dx": -16, "fontSize": 13},
                "vconcat": [{
                  "width": 136, "height": 115,
                  "title": {"text": "Th17", "offset": 13, "anchor": "start", "frame": "group", "dx": 50},
                  "layer": [
                    {
                      "data": {"name": "dG"},
                      "transform": [{"fold": ["Baseline", "After treatment"], "as": ["t", "v"]}],
                      "layer": [
                        {"mark": {"type": "line", "color": "#666666", "strokeWidth": 0.8},
                         "encoding": {
                           "x": {"field": "t", "type": "nominal", "title": null, "scale": {"type": "point", "domain": ["Baseline", "After treatment"], "padding": 0.736, "align": 0.52}},
                           "y": {"field": "v", "type": "quantitative", "title": "%of CD4⁺T cells", "scale": {"domain": [0, 8], "nice": false}, "axis": {"values": [0, 2, 4, 6, 8], "labelOverlap": false}},
                           "detail": {"field": "id"}}},
                        {"mark": {"type": "point", "filled": true, "opacity": 1, "size": 22},
                         "encoding": {
                           "x": {"field": "t", "type": "nominal", "title": null},
                           "y": {"field": "v", "type": "quantitative", "title": "%of CD4⁺T cells", "axis": {"values": [0, 2, 4, 6, 8], "labelOverlap": false}},
                           "color": {"field": "t", "type": "nominal", "scale": {"domain": ["Baseline", "After treatment"], "range": ["#000000", "#ff0000"]}, "legend": null},
                           "shape": {"field": "t", "type": "nominal", "scale": {"domain": ["Baseline", "After treatment"], "range": ["circle", "square"]}, "legend": null}}}
                      ]
                    },
                    {
                      "data": {"values": [{"xb": "Baseline", "xa": "After treatment", "top": 7.85, "yl": 7.5, "yr": 4.3, "lab": "**"}]},
                      "layer": [
                        {"mark": {"type": "rule", "color": "#2b2b2b", "strokeWidth": 1.4}, "encoding": {"x": {"field": "xb", "type": "nominal", "title": null}, "x2": {"field": "xa"}, "y": {"field": "top", "type": "quantitative", "title": "%of CD4⁺T cells", "axis": {"values": [0, 2, 4, 6, 8], "labelOverlap": false}}}},
                        {"mark": {"type": "rule", "color": "#2b2b2b", "strokeWidth": 1.4}, "encoding": {"x": {"field": "xb", "type": "nominal", "title": null}, "y": {"field": "top", "type": "quantitative", "title": "%of CD4⁺T cells", "axis": {"values": [0, 2, 4, 6, 8], "labelOverlap": false}}, "y2": {"field": "yl"}}},
                        {"mark": {"type": "rule", "color": "#2b2b2b", "strokeWidth": 1.4}, "encoding": {"x": {"field": "xa", "type": "nominal", "title": null}, "y": {"field": "top", "type": "quantitative", "title": "%of CD4⁺T cells", "axis": {"values": [0, 2, 4, 6, 8], "labelOverlap": false}}, "y2": {"field": "yr"}}},
                        {"mark": {"type": "text", "fontSize": 13, "dx": 27.5, "dy": -1, "baseline": "alphabetic", "color": "#111111"}, "encoding": {"x": {"field": "xb", "type": "nominal", "title": null}, "y": {"field": "top", "type": "quantitative", "title": "%of CD4⁺T cells", "axis": {"values": [0, 2, 4, 6, 8], "labelOverlap": false}}, "text": {"field": "lab"}}}
                      ]
                    }
                  ]
                }]
              }
            ]
          },
          {
            "spacing": 2,
            "hconcat": [
              {
                "title": {"text": "H", "anchor": "start", "frame": "bounds", "baseline": "top", "offset": -14, "dx": -18, "fontSize": 13},
                "vconcat": [{
                  "width": 124, "height": 117,
                  "title": {"text": "CD127⁺ effector memory CD8⁺T cells", "offset": 17, "anchor": "start", "frame": "group", "dx": -30},
                  "layer": [
                    {
                      "data": {"name": "dH"},
                      "transform": [{"fold": ["Baseline", "After treatment"], "as": ["t", "v"]}],
                      "layer": [
                        {"mark": {"type": "line", "color": "#666666", "strokeWidth": 0.8},
                         "encoding": {
                           "x": {"field": "t", "type": "nominal", "title": null, "scale": {"type": "point", "domain": ["Baseline", "After treatment"], "padding": 0.67, "align": 0.535}},
                           "y": {"field": "v", "type": "quantitative", "title": "% of CD8⁺ T cells", "scale": {"domain": [0, 150], "nice": false}, "axis": {"values": [0, 50, 100, 150], "labelOverlap": false}},
                           "detail": {"field": "id"}}},
                        {"mark": {"type": "point", "filled": true, "opacity": 1, "size": 22},
                         "encoding": {
                           "x": {"field": "t", "type": "nominal", "title": null},
                           "y": {"field": "v", "type": "quantitative", "title": "% of CD8⁺ T cells", "axis": {"values": [0, 50, 100, 150], "labelOverlap": false}},
                           "color": {"field": "t", "type": "nominal", "scale": {"domain": ["Baseline", "After treatment"], "range": ["#000000", "#ff0000"]}, "legend": null},
                           "shape": {"field": "t", "type": "nominal", "scale": {"domain": ["Baseline", "After treatment"], "range": ["circle", "square"]}, "legend": null}}}
                      ]
                    },
                    {
                      "data": {"values": [{"xb": "Baseline", "xa": "After treatment", "top": 122, "yl": 113.6, "yr": 82.6, "lab": "*"}]},
                      "layer": [
                        {"mark": {"type": "rule", "color": "#2b2b2b", "strokeWidth": 1.4}, "encoding": {"x": {"field": "xb", "type": "nominal", "title": null}, "x2": {"field": "xa"}, "y": {"field": "top", "type": "quantitative", "title": "% of CD8⁺ T cells", "axis": {"values": [0, 50, 100, 150], "labelOverlap": false}}}},
                        {"mark": {"type": "rule", "color": "#2b2b2b", "strokeWidth": 1.4}, "encoding": {"x": {"field": "xb", "type": "nominal", "title": null}, "y": {"field": "top", "type": "quantitative", "title": "% of CD8⁺ T cells", "axis": {"values": [0, 50, 100, 150], "labelOverlap": false}}, "y2": {"field": "yl"}}},
                        {"mark": {"type": "rule", "color": "#2b2b2b", "strokeWidth": 1.4}, "encoding": {"x": {"field": "xa", "type": "nominal", "title": null}, "y": {"field": "top", "type": "quantitative", "title": "% of CD8⁺ T cells", "axis": {"values": [0, 50, 100, 150], "labelOverlap": false}}, "y2": {"field": "yr"}}},
                        {"mark": {"type": "text", "fontSize": 13, "dx": 26.5, "dy": -1, "baseline": "alphabetic", "color": "#111111"}, "encoding": {"x": {"field": "xb", "type": "nominal", "title": null}, "y": {"field": "top", "type": "quantitative", "title": "% of CD8⁺ T cells", "axis": {"values": [0, 50, 100, 150], "labelOverlap": false}}, "text": {"field": "lab"}}}
                      ]
                    }
                  ]
                }]
              },
              {
                "spacing": 23,
                "hconcat": [
                  {
                    "title": {"text": "I", "anchor": "start", "frame": "bounds", "baseline": "top", "offset": -14, "dx": -24, "fontSize": 13},
                    "vconcat": [{
                      "width": 121, "height": 117,
                      "title": {"text": "CD8⁺ CD38⁺ HLADR⁺ T cells", "offset": 3, "anchor": "start", "frame": "group", "dx": -19},
                      "layer": [
                        {
                          "data": {"name": "dI"},
                          "transform": [{"fold": ["Baseline", "After treatment"], "as": ["t", "v"]}],
                          "layer": [
                            {"mark": {"type": "line", "color": "#666666", "strokeWidth": 0.8},
                             "encoding": {
                               "x": {"field": "t", "type": "nominal", "title": null, "scale": {"type": "point", "domain": ["Baseline", "After treatment"], "padding": 0.6, "align": 0.545}},
                               "y": {"field": "v", "type": "quantitative", "title": "% of CD8⁺ T cells", "scale": {"domain": [0, 100], "nice": false}, "axis": {"values": [0, 20, 40, 60, 80, 100], "labelOverlap": false}},
                               "detail": {"field": "id"}}},
                            {"mark": {"type": "point", "filled": true, "opacity": 1, "size": 22},
                             "encoding": {
                               "x": {"field": "t", "type": "nominal", "title": null},
                               "y": {"field": "v", "type": "quantitative", "title": "% of CD8⁺ T cells", "axis": {"values": [0, 20, 40, 60, 80, 100], "labelOverlap": false}},
                               "color": {"field": "t", "type": "nominal", "scale": {"domain": ["Baseline", "After treatment"], "range": ["#000000", "#ff0000"]}, "legend": null},
                               "shape": {"field": "t", "type": "nominal", "scale": {"domain": ["Baseline", "After treatment"], "range": ["circle", "square"]}, "legend": null}}}
                          ]
                        },
                        {
                          "data": {"values": [{"xb": "Baseline", "xa": "After treatment", "top": 104.4, "yl": 99.4, "yr": 87.6, "lab": "*"}]},
                          "layer": [
                            {"mark": {"type": "rule", "color": "#2b2b2b", "strokeWidth": 1.4}, "encoding": {"x": {"field": "xb", "type": "nominal", "title": null}, "x2": {"field": "xa"}, "y": {"field": "top", "type": "quantitative", "title": "% of CD8⁺ T cells", "axis": {"values": [0, 20, 40, 60, 80, 100], "labelOverlap": false}}}},
                            {"mark": {"type": "rule", "color": "#2b2b2b", "strokeWidth": 1.4}, "encoding": {"x": {"field": "xb", "type": "nominal", "title": null}, "y": {"field": "top", "type": "quantitative", "title": "% of CD8⁺ T cells", "axis": {"values": [0, 20, 40, 60, 80, 100], "labelOverlap": false}}, "y2": {"field": "yl"}}},
                            {"mark": {"type": "rule", "color": "#2b2b2b", "strokeWidth": 1.4}, "encoding": {"x": {"field": "xa", "type": "nominal", "title": null}, "y": {"field": "top", "type": "quantitative", "title": "% of CD8⁺ T cells", "axis": {"values": [0, 20, 40, 60, 80, 100], "labelOverlap": false}}, "y2": {"field": "yr"}}},
                            {"mark": {"type": "text", "fontSize": 13, "dx": 27.5, "dy": -1, "baseline": "alphabetic", "color": "#111111"}, "encoding": {"x": {"field": "xb", "type": "nominal", "title": null}, "y": {"field": "top", "type": "quantitative", "title": "% of CD8⁺ T cells", "axis": {"values": [0, 20, 40, 60, 80, 100], "labelOverlap": false}}, "text": {"field": "lab"}}}
                          ]
                        }
                      ]
                    }]
                  },
                  {
                    "title": {"text": "J", "anchor": "start", "frame": "bounds", "baseline": "top", "offset": -14, "dx": -10, "fontSize": 13},
                    "vconcat": [{
                      "width": 128, "height": 117,
                      "title": {"text": "CD8⁺ HLADR⁺ T cells", "offset": 3, "anchor": "start", "frame": "group", "dx": -5},
                      "layer": [
                        {
                          "data": {"name": "dJ"},
                          "transform": [{"fold": ["Baseline", "After treatment"], "as": ["t", "v"]}],
                          "layer": [
                            {"mark": {"type": "line", "color": "#666666", "strokeWidth": 0.8},
                             "encoding": {
                               "x": {"field": "t", "type": "nominal", "title": null, "scale": {"type": "point", "domain": ["Baseline", "After treatment"], "padding": 0.664, "align": 0.48}},
                               "y": {"field": "v", "type": "quantitative", "title": "% of CD8⁺ T cells", "scale": {"domain": [0, 25], "nice": false}, "axis": {"values": [0, 5, 10, 15, 20, 25], "labelOverlap": false}},
                               "detail": {"field": "id"}}},
                            {"mark": {"type": "point", "filled": true, "opacity": 1, "size": 22},
                             "encoding": {
                               "x": {"field": "t", "type": "nominal", "title": null},
                               "y": {"field": "v", "type": "quantitative", "title": "% of CD8⁺ T cells", "axis": {"values": [0, 5, 10, 15, 20, 25], "labelOverlap": false}},
                               "color": {"field": "t", "type": "nominal", "scale": {"domain": ["Baseline", "After treatment"], "range": ["#000000", "#ff0000"]}, "legend": null},
                               "shape": {"field": "t", "type": "nominal", "scale": {"domain": ["Baseline", "After treatment"], "range": ["circle", "square"]}, "legend": null}}}
                          ]
                        },
                        {
                          "data": {"values": [{"xb": "Baseline", "xa": "After treatment", "top": 26, "yl": 24.5, "yr": 11.25, "lab": "*"}]},
                          "layer": [
                            {"mark": {"type": "rule", "color": "#2b2b2b", "strokeWidth": 1.4}, "encoding": {"x": {"field": "xb", "type": "nominal", "title": null}, "x2": {"field": "xa"}, "y": {"field": "top", "type": "quantitative", "title": "% of CD8⁺ T cells", "axis": {"values": [0, 5, 10, 15, 20, 25], "labelOverlap": false}}}},
                            {"mark": {"type": "rule", "color": "#2b2b2b", "strokeWidth": 1.4}, "encoding": {"x": {"field": "xb", "type": "nominal", "title": null}, "y": {"field": "top", "type": "quantitative", "title": "% of CD8⁺ T cells", "axis": {"values": [0, 5, 10, 15, 20, 25], "labelOverlap": false}}, "y2": {"field": "yl"}}},
                            {"mark": {"type": "rule", "color": "#2b2b2b", "strokeWidth": 1.4}, "encoding": {"x": {"field": "xa", "type": "nominal", "title": null}, "y": {"field": "top", "type": "quantitative", "title": "% of CD8⁺ T cells", "axis": {"values": [0, 5, 10, 15, 20, 25], "labelOverlap": false}}, "y2": {"field": "yr"}}},
                            {"mark": {"type": "text", "fontSize": 13, "dx": 27.5, "dy": -1, "baseline": "alphabetic", "color": "#111111"}, "encoding": {"x": {"field": "xb", "type": "nominal", "title": null}, "y": {"field": "top", "type": "quantitative", "title": "% of CD8⁺ T cells", "axis": {"values": [0, 5, 10, 15, 20, 25], "labelOverlap": false}}, "text": {"field": "lab"}}}
                          ]
                        }
                      ]
                    }]
                  }
                ]
              }
            ]
          }
        ]
      }
    ]
  }
]
}
